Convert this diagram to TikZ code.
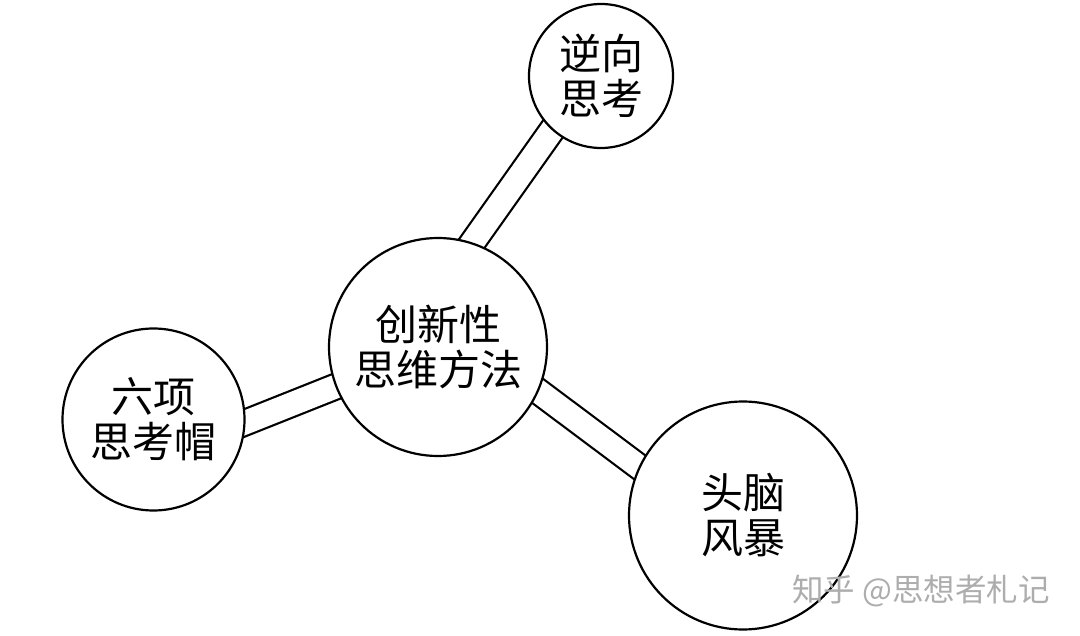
\documentclass[tikz,border=0pt]{standalone}
\usepackage{fontspec}
\newfontfamily\cjk{Noto Sans CJK SC}
\pgfdeclarelayer{bgfill}
\pgfdeclarelayer{links}
\pgfsetlayers{bgfill,links,main}
\begin{document}
\begin{tikzpicture}[x=1pt,y=-1pt,
  bubble/.style={circle,draw=black,line width=2.2pt,fill=white,inner sep=0pt,align=center,
    font=\cjk\fontsize{42}{45}\selectfont},
  tube/.style={draw=black,line width=2.2pt,double=white,double distance=23.5pt},
  wm/.style={text=black!32,font=\cjk\fontsize{31.5}{31.5}\selectfont,inner sep=0pt}]
\begin{pgfonlayer}{bgfill}
\fill[white] (0,0) rectangle (1080,636);
\end{pgfonlayer}
\useasboundingbox (0,0) rectangle (1080,636);
% circles
\node[bubble,minimum size=218pt] (c) at (438,347) {创新性\\思维方法};
\node[bubble,minimum size=144pt] (t) at (601,76) {逆向\\思考};
\node[bubble,minimum size=182pt] (l) at (153.5,419.5) {六项\\思考帽};
\node[bubble,minimum size=228pt] (r) at (743,515.5) {头脑\\风暴};
% connector end points (inside the circles, hidden by their fill)
\coordinate (c-t) at (449.4,275.1);
\coordinate (t-c) at (576.5,95.6);
\coordinate (c-r) at (497,360.5);
\coordinate (r-c) at (697.2,510.3);
\coordinate (l-c) at (199,441);
\coordinate (c-l) at (384.9,367);
\begin{pgfonlayer}{links}
\draw[tube] (c-t) -- (t-c);
\draw[tube] (c-r) -- (r-c);
\draw[tube] (l-c) -- (c-l);
\end{pgfonlayer}
% watermark
\node[wm,anchor=west] (w) at (792,591) {知乎 @思想者札记};
\end{tikzpicture}
\end{document}
